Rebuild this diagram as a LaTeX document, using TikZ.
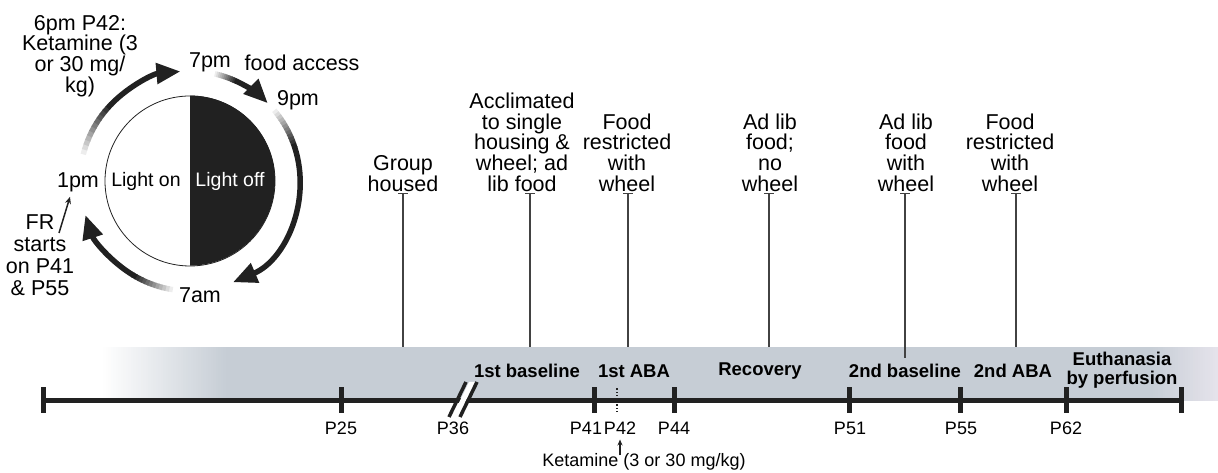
\documentclass[tikz,border=0pt]{standalone}
\usepackage{fontspec}
\setmainfont{Liberation Sans}
\usetikzlibrary{arrows.meta,positioning,calc}

\definecolor{bandgray}{RGB}{198,205,213}
\definecolor{bandend}{RGB}{229,227,235}
\definecolor{ink}{RGB}{33,33,33}

% one clock arrow: start angle, tip angle, length of the faded tail
\newcommand{\clockarc}[3]{%
	\foreach \k in {0,...,11}{%
		\pgfmathsetmacro{\arcfrom}{#1+(#3)*\k/12}%
		\pgfmathsetmacro{\arcto}{#1+(#3)*(\k+1)/12+0.4*sign(#3)}%
		\pgfmathtruncatemacro{\arcshade}{100*(\k+1)/12}%
		\draw[clockline, draw=ink!\arcshade!white] ([shift={(\arcfrom:110)}]clock.center) arc[start angle=\arcfrom, end angle=\arcto, radius=110];
	}%
	\draw[clockline, draw=ink, -{Triangle[length=24pt,width=20pt]}] ([shift={(#1+#3:110)}]clock.center) arc[start angle=#1+#3, end angle=#2, radius=110];
}

\begin{document}
	\begin{tikzpicture}[
		x=1pt, y=1pt,
		every node/.style={
			inner sep=1pt,
			font=\fontsize{21.5}{20.8}\selectfont
		},
		note/.style={align=center, anchor=south},
		phase/.style={align=center, font=\fontsize{18.5}{19}\selectfont\bfseries},
		age/.style={font=\fontsize{18}{18}\selectfont},
		tick/.style={draw=ink, line width=5pt},
		pin/.style={draw=ink!85, line width=1.4pt, {Bar[width=10pt]}-},
		clockline/.style={line width=5.5pt}
		]
		
		\useasboundingbox (0,0) rectangle (1218,473);
		
		% shaded band behind the timeline
		\fill[bandgray] (226,72) rectangle (1151,126);
		\foreach \k in {0,...,49}{
			\pgfmathtruncatemacro{\bandshade}{2*\k+2}
			\fill[bandgray!\bandshade!white] (103+2.5*\k,72) rectangle (106+2.5*\k,126);
		}
		\foreach \k in {0,...,26}{
			\pgfmathtruncatemacro{\bandshade}{100*(\k+1)/27}
			\fill[bandend!\bandshade!bandgray] (1150+2.5*\k,72) rectangle (1153+2.5*\k,126);
		}
		
		% timeline
		\coordinate (tstart) at (43,72);
		\coordinate (tend) at (1181,72);
		\draw[ink, line width=5pt] (tstart) -- (tend);
		\fill[white] (452,56) -- (469,91) -- (475,91) -- (458,56) -- cycle;
		\draw[ink, line width=3.5pt] (449,56) -- (466,91);
		\draw[ink, line width=3.5pt] (460,56) -- (477,91);
		\foreach \x in {43,341,594,674,849,960,1066,1181}
			\draw[tick] (\x,60) -- (\x,86);
		\draw[ink, line width=1.2pt, dotted] (617,61) -- (617,86);
		
		% ages
		\foreach \x/\lab in {341/P25,453/P36,586/P41,620/P42,674/P44,850/P51,961/P55,1066/P62}
			\node[age] (\lab) at (\x,45) {\lab};
		\node[age] (ket) at (644,11) {Ketamine (3 or 30 mg/kg)};
		\draw[ink, line width=1.2pt, -{Stealth[length=6pt,width=5pt]}] ([yshift=-3pt]ket.north -| P42.south) -- ([yshift=-4pt]P42.south);
		
		% phases
		\node[phase] (base1) at (527,102) {1st baseline};
		\node[phase] (aba1) at (634,102) {1st ABA};
		\node[phase] (recov) at (760,102) {Recovery};
		\node[phase] (base2) at (905,102) {2nd baseline};
		\node[phase] (aba2) at (1013,102) {2nd ABA};
		\node[phase] (euth) at (1122,103) {Euthanasia\\by perfusion};
		
		% conditions
		\node[note] (grp) at (403,280) {Group\\housed};
		\node[note] (accl) at (522,280) {Acclimated\\to single\\housing \&\\wheel; ad\\lib food};
		\node[note] (fr1) at (627,280) {Food\\restricted\\with\\wheel};
		\node[note] (noweel) at (770,280) {Ad lib\\food;\\no\\wheel};
		\node[note] (adlib) at (906,280) {Ad lib\\food\\with\\wheel};
		\node[note] (fr2) at (1010,280) {Food\\restricted\\with\\wheel};
		
		\draw[pin] (grp.south) -- ++(0,-154);
		\draw[pin] ([xshift=8pt]accl.south) -- ++(0,-154);
		\draw[pin] ([xshift=1pt]fr1.south) -- ++(0,-154);
		\draw[pin] ([xshift=-1pt]noweel.south) -- ++(0,-154);
		\draw[pin] ([xshift=-1pt]adlib.south) -- ++(0,-165);
		\draw[pin] ([xshift=6pt]fr2.south) -- ++(0,-154);
		
		% light cycle
		\node[circle, draw=ink, line width=0.8pt, minimum size=170pt, inner sep=0] (clock) at (190,292) {};
		\fill[ink] (clock.north) arc[start angle=90, end angle=-90, radius=85] -- cycle;
		\node[font=\fontsize{19.5}{20}\selectfont] (lon) at (146,292) {Light on};
		\node[font=\fontsize{19.5}{20}\selectfont, text=white] (loff) at (230,292) {Light off};
		
		\clockarc{166}{95}{-30}
		\clockarc{77}{45}{-12}
		\clockarc{40}{-67}{-22}
		\clockarc{-99}{-162}{-22}
		
		\node (pm7) at (210,411) {7pm};
		\node (food) at (302,410) {food access};
		\node (pm9) at (298,373) {9pm};
		\node (pm1) at (78,291) {1pm};
		\node (am7) at (200,178) {7am};
		\node[align=center] (ket6) at (80,417) {6pm P42:\\Ketamine (3\\or 30 mg/\\kg)};
		\node[align=center, font=\fontsize{21.5}{22}\selectfont] (frs) at (40,218) {FR\\starts\\on P41\\\& P55};
		
		\coordinate (frtail) at (59,240);
		\draw[ink, line width=1.5pt, -{Stealth[length=7pt,width=6pt]}] (frtail) -- ([shift={(-8pt,-4pt)}]pm1.south);
		
	\end{tikzpicture}
\end{document}
